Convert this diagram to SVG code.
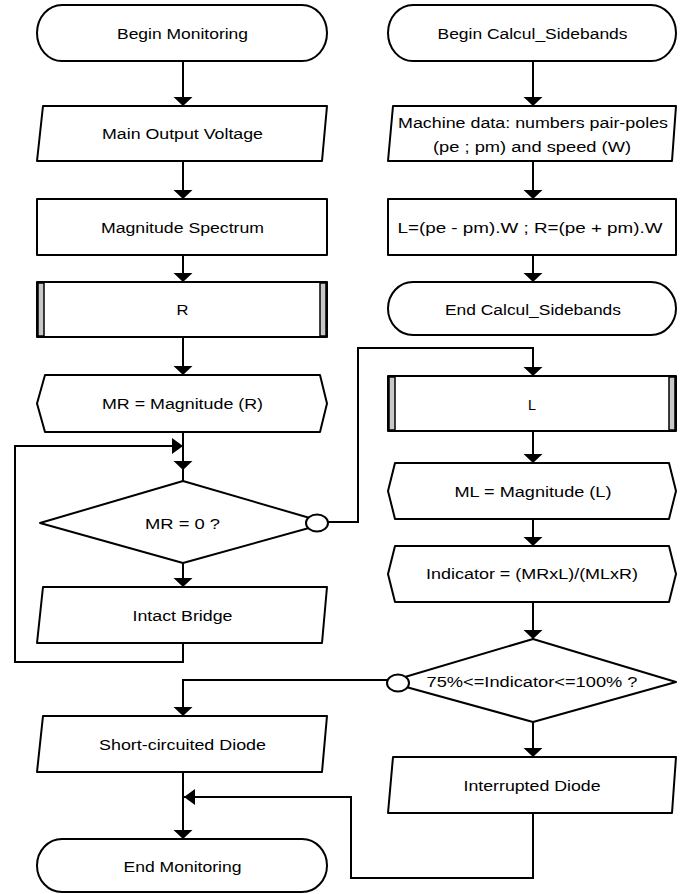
<svg xmlns="http://www.w3.org/2000/svg" width="686" height="894" viewBox="0 0 686 894">
<style>
.s{fill:#fff;stroke:#000;stroke-width:2;stroke-linejoin:round}
.band{fill:#c8c8c8;stroke:#000;stroke-width:1.5}
.c{fill:none;stroke:#000;stroke-width:2}
.t{font-family:"Liberation Sans",Arial,sans-serif;font-size:15.5px;fill:#000;text-anchor:middle}
</style>
<defs>
<marker id="ad" markerUnits="userSpaceOnUse" markerWidth="20" markerHeight="20" viewBox="-10 -10 20 20" refX="0" refY="0" orient="auto">
<path d="M0,0 L-9,-9.5 L-9,9.5 Z" fill="#000"/>
</marker>
<marker id="ah" markerUnits="userSpaceOnUse" markerWidth="20" markerHeight="20" viewBox="-12 -10 20 20" refX="0" refY="0" orient="auto">
<path d="M0,0 L-11,-8 L-11,8 Z" fill="#000"/>
</marker>
</defs>
<rect width="686" height="894" fill="#fff"/>

<g id="connectors">
<path class="c" d="M183,61 V106" marker-end="url(#ad)"/>
<path class="c" d="M183,161 V199" marker-end="url(#ad)"/>
<path class="c" d="M183,255 V282" marker-end="url(#ad)"/>
<path class="c" d="M183,337 V375" marker-end="url(#ad)"/>
<path class="c" d="M183,432 V470" marker-end="url(#ad)"/>
<path class="c" d="M183,469 V481"/>
<path class="c" d="M183,563 V587" marker-end="url(#ad)"/>
<path class="c" d="M183,643 V662 H15 V446 H183" marker-end="url(#ah)"/>
<path class="c" d="M328,522 H358 V348 H533 V376" marker-end="url(#ad)"/>
<path class="c" d="M533,61 V106" marker-end="url(#ad)"/>
<path class="c" d="M533,161 V199" marker-end="url(#ad)"/>
<path class="c" d="M533,255 V282" marker-end="url(#ad)"/>
<path class="c" d="M533,431 V463" marker-end="url(#ad)"/>
<path class="c" d="M533,519 V546" marker-end="url(#ad)"/>
<path class="c" d="M533,602 V639" marker-end="url(#ad)"/>
<path class="c" d="M533,722 V757" marker-end="url(#ad)"/>
<path class="c" d="M387,680 H183 V716" marker-end="url(#ad)"/>
<path class="c" d="M183,772 V839" marker-end="url(#ad)"/>
<path class="c" d="M533,813 V878 H351 V797 H184" marker-end="url(#ah)"/>
</g>

<g id="begin-monitoring">
<rect class="s" x="37" y="5" width="290" height="56" rx="25" ry="28"/>
<text class="t" x="182.5" y="39" textLength="131" lengthAdjust="spacingAndGlyphs">Begin Monitoring</text>
</g>
<g id="main-output-voltage">
<polygon class="s" points="43,106 327,106 322,161 37,161"/>
<text class="t" x="182.5" y="139" textLength="161" lengthAdjust="spacingAndGlyphs">Main Output Voltage</text>
</g>
<g id="magnitude-spectrum">
<rect class="s" x="37" y="199" width="290" height="56"/>
<text class="t" x="182.5" y="233" textLength="163" lengthAdjust="spacingAndGlyphs">Magnitude Spectrum</text>
</g>
<g id="r">
<rect class="s" x="37" y="282" width="290" height="55"/>
<rect class="band" x="38" y="283" width="6" height="53"/>
<rect class="band" x="320" y="283" width="6" height="53"/>
<text class="t" x="182.5" y="315" textLength="12" lengthAdjust="spacingAndGlyphs">R</text>
</g>
<g id="mr-magnitude">
<polygon class="s" points="45,375 320,375 327,403.5 320,432 45,432 37,403.5"/>
<text class="t" x="182.5" y="409" textLength="161" lengthAdjust="spacingAndGlyphs">MR = Magnitude (R)</text>
</g>
<g id="mr-zero">
<polygon class="s" points="183,481 327,523 183,563 40,523"/>
<ellipse class="s" cx="317" cy="523" rx="11" ry="8.5"/>
<text class="t" x="182.5" y="529" textLength="75" lengthAdjust="spacingAndGlyphs">MR = 0 ?</text>
</g>
<g id="intact-bridge">
<polygon class="s" points="43,587 327,587 322,643 37,643"/>
<text class="t" x="182.5" y="620.5" textLength="100" lengthAdjust="spacingAndGlyphs">Intact Bridge</text>
</g>
<g id="short-circuited-diode">
<polygon class="s" points="43,716 327,716 322,772 37,772"/>
<text class="t" x="182.5" y="749.5" textLength="167" lengthAdjust="spacingAndGlyphs">Short-circuited Diode</text>
</g>
<g id="end-monitoring">
<rect class="s" x="37" y="839" width="290" height="53" rx="25" ry="26.5"/>
<text class="t" x="182.5" y="872" textLength="118" lengthAdjust="spacingAndGlyphs">End Monitoring</text>
</g>

<g id="begin-calcul">
<rect class="s" x="388" y="5" width="288" height="56" rx="25" ry="28"/>
<text class="t" x="532.5" y="39" textLength="190" lengthAdjust="spacingAndGlyphs">Begin Calcul_Sidebands</text>
</g>
<g id="machine-data">
<polygon class="s" points="393,106 676,106 672,161 388,161"/>
<text class="t" x="533" y="128" textLength="270" lengthAdjust="spacingAndGlyphs">Machine data: numbers pair-poles</text>
<text class="t" x="532" y="152" textLength="198" lengthAdjust="spacingAndGlyphs">(pe ; pm) and speed (W)</text>
</g>
<g id="l-r-formula">
<rect class="s" x="388" y="199" width="288" height="56"/>
<text class="t" x="530" y="233" textLength="265" lengthAdjust="spacingAndGlyphs">L=(pe - pm).W ; R=(pe + pm).W</text>
</g>
<g id="end-calcul">
<rect class="s" x="388" y="282" width="288" height="53" rx="25" ry="26.5"/>
<text class="t" x="533" y="315" textLength="176" lengthAdjust="spacingAndGlyphs">End Calcul_Sidebands</text>
</g>
<g id="l">
<rect class="s" x="388" y="376" width="288" height="55"/>
<rect class="band" x="389" y="377" width="6" height="53"/>
<rect class="band" x="669" y="377" width="6" height="53"/>
<text class="t" x="532" y="410" textLength="8" lengthAdjust="spacingAndGlyphs">L</text>
</g>
<g id="ml-magnitude">
<polygon class="s" points="395,463 669,463 676,491 669,519 395,519 388,491"/>
<text class="t" x="533" y="497" textLength="157" lengthAdjust="spacingAndGlyphs">ML = Magnitude (L)</text>
</g>
<g id="indicator">
<polygon class="s" points="395,546 669,546 676,574 669,602 395,602 388,574"/>
<text class="t" x="532" y="579" textLength="212" lengthAdjust="spacingAndGlyphs">Indicator = (MRxL)/(MLxR)</text>
</g>
<g id="indicator-test">
<polygon class="s" points="533,639 676,682 533,722 388,682"/>
<ellipse class="s" cx="398" cy="683" rx="11" ry="8.5"/>
<text class="t" x="532" y="687" textLength="211" lengthAdjust="spacingAndGlyphs">75%&lt;=Indicator&lt;=100% ?</text>
</g>
<g id="interrupted-diode">
<polygon class="s" points="393,757 676,757 672,813 388,813"/>
<text class="t" x="532" y="790.5" textLength="137" lengthAdjust="spacingAndGlyphs">Interrupted Diode</text>
</g>
</svg>
